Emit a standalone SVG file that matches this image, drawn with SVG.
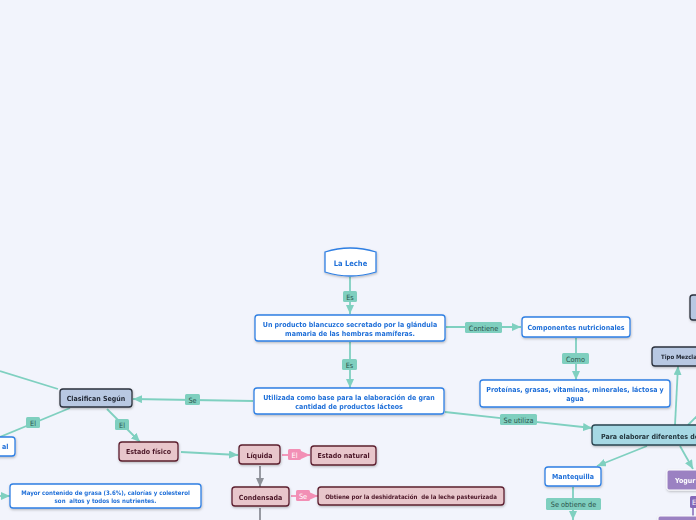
<svg xmlns="http://www.w3.org/2000/svg" width="696" height="520" viewBox="0 0 696 520">
<defs>
<style>
.bg{fill:#f2f4fc}
.wb{fill:#ffffff;stroke:#2f7fe3;stroke-width:1.3}
.gb{fill:#b8c8e2;stroke:#2b313c;stroke-width:1.3}
.cb{fill:#a6d8e4;stroke:#2a4450;stroke-width:1.3}
.pb{fill:#e8c6cb;stroke:#5c1f2f;stroke-width:1.3}
.vb{fill:#9b81c2;stroke:#ffffff;stroke-width:1}
.t{font-family:"DejaVu Sans Condensed","DejaVu Sans",sans-serif;font-weight:bold;text-anchor:middle}
.tb{fill:#1f6fd8}
.tg{fill:#1e2430}
.tc{fill:#23343c}
.tp{fill:#4a1526}
.tw{fill:#ffffff}
.c{stroke:#7fd0c0;stroke-width:1.8;fill:none}
.cg{stroke:#8d9098;stroke-width:1.8;fill:none}
.cp{stroke:#f28fb5;stroke-width:1.8;fill:none}
.lb{fill:#7fcfbf}
.lp{fill:#f28fb5}
.lv{fill:#8468b8}
.lt{font-family:"DejaVu Sans Condensed","DejaVu Sans",sans-serif;font-size:7.3px;text-anchor:middle;fill:#2b544c}
.ltw{font-family:"DejaVu Sans Condensed","DejaVu Sans",sans-serif;font-size:7.3px;text-anchor:middle;fill:#ffffff}
</style>
<filter id="sh" x="-10%" y="-20%" width="120%" height="150%">
<feDropShadow dx="0.5" dy="1.2" stdDeviation="0.8" flood-color="#000" flood-opacity="0.25"/>
</filter>
<marker id="at" markerUnits="userSpaceOnUse" markerWidth="10" markerHeight="8" refX="9" refY="4" orient="auto"><path d="M0,0 L9,4 L0,8 Z" fill="#7fd0c0"/></marker>
<marker id="ag" markerUnits="userSpaceOnUse" markerWidth="10" markerHeight="8" refX="9" refY="4" orient="auto"><path d="M0,0 L9,4 L0,8 Z" fill="#8d9098"/></marker>
<marker id="ap" markerUnits="userSpaceOnUse" markerWidth="10" markerHeight="8" refX="9" refY="4" orient="auto"><path d="M0,0 L9,4 L0,8 Z" fill="#f28fb5"/></marker>
</defs>
<rect class="bg" x="0" y="0" width="696" height="520"/>

<g id="connectors">
<line class="c" x1="350" y1="277" x2="350" y2="314" marker-end="url(#at)"/>
<line class="c" x1="350" y1="342" x2="350" y2="388" marker-end="url(#at)"/>
<line class="c" x1="446" y1="327" x2="521" y2="327" marker-end="url(#at)"/>
<line class="c" x1="576" y1="338" x2="576" y2="380" marker-end="url(#at)"/>
<line class="c" x1="445" y1="412" x2="592" y2="428" marker-end="url(#at)"/>
<line class="c" x1="253" y1="401" x2="133" y2="399" marker-end="url(#at)"/>
<line class="c" x1="58" y1="389" x2="0" y2="371"/>
<line class="c" x1="70" y1="408" x2="0" y2="437"/>
<line class="c" x1="107" y1="409" x2="140" y2="442" marker-end="url(#at)"/>
<line class="c" x1="181" y1="452" x2="238" y2="455" marker-end="url(#at)"/>
<line class="c" x1="0" y1="496" x2="10" y2="496" marker-end="url(#at)"/>
<line class="c" x1="675" y1="425" x2="678" y2="366" marker-end="url(#at)"/>
<line class="c" x1="688" y1="425" x2="700" y2="413"/>
<line class="c" x1="680" y1="446" x2="693" y2="469" marker-end="url(#at)"/>
<line class="c" x1="647" y1="446" x2="597" y2="466" marker-end="url(#at)"/>
<line class="c" x1="573" y1="487" x2="573" y2="520" marker-end="url(#at)"/>
<line class="cg" x1="260" y1="466" x2="260" y2="487" marker-end="url(#ag)"/>
<line class="cg" x1="260" y1="508" x2="260" y2="520"/>
<line class="cp" x1="282" y1="455" x2="310" y2="455" marker-end="url(#ap)"/>
<line class="cp" x1="291" y1="496" x2="318" y2="496" marker-end="url(#ap)"/>
<line x1="693" y1="508" x2="693" y2="516" stroke="#8468b8" stroke-width="1.5"/>

<rect class="lb" x="343" y="291" width="14" height="11" rx="1.5"/><text class="lt" x="350" y="299.5">Es</text>
<rect class="lb" x="342" y="359" width="15" height="11" rx="1.5"/><text class="lt" x="349.5" y="367.5">Es</text>
<rect class="lb" x="465" y="322" width="37" height="11" rx="1.5"/><text class="lt" x="483.5" y="330.5">Contiene</text>
<rect class="lb" x="562" y="353" width="27" height="11" rx="1.5"/><text class="lt" x="575.5" y="361.5">Como</text>
<rect class="lb" x="500" y="414" width="37" height="11" rx="1.5"/><text class="lt" x="518.5" y="422.5">Se utiliza</text>
<rect class="lb" x="185" y="394" width="15" height="11" rx="1.5"/><text class="lt" x="192.5" y="402.5">Se</text>
<rect class="lb" x="26" y="417" width="14" height="11" rx="1.5"/><text class="lt" x="33" y="425.5">El</text>
<rect class="lb" x="115" y="419" width="14" height="11" rx="1.5"/><text class="lt" x="122" y="427.5">El</text>
<rect class="lb" x="546" y="498" width="55" height="12" rx="1.5"/><text class="lt" x="573.5" y="507">Se obtiene de</text>
<rect class="lp" x="288" y="449" width="13" height="11" rx="1.5"/><text class="ltw" x="294.5" y="457.5">El</text>
<rect class="lp" x="296" y="490" width="14" height="11" rx="1.5"/><text class="ltw" x="303" y="498.5">Se</text>
<rect class="lv" x="690" y="496" width="12" height="12" rx="1.5"/><text class="ltw" x="692" y="504.5" style="text-anchor:start">E</text>
</g>

<g id="n-leche" filter="url(#sh)">
<path class="wb" d="M325,252 Q350,244 376,252 L376,272 Q350,280 325,272 Z"/>
<text class="t tb" x="350.5" y="265.5" font-size="7.5">La Leche</text>
</g>
<g id="n-producto" filter="url(#sh)">
<rect class="wb" x="255" y="315" width="190" height="26" rx="3"/>
<text class="t tb" x="350" y="327" font-size="7">Un producto blancuzco secretado por la glándula</text>
<text class="t tb" x="350" y="335.5" font-size="7">mamaria de las hembras mamíferas.</text>
</g>
<g id="n-utilizada" filter="url(#sh)">
<rect class="wb" x="254" y="388" width="190" height="26" rx="3"/>
<text class="t tb" x="349" y="400" font-size="7">Utilizada como base para la elaboración de gran</text>
<text class="t tb" x="349" y="408.5" font-size="7">cantidad de productos lácteos</text>
</g>
<g id="n-componentes" filter="url(#sh)">
<rect class="wb" x="522" y="317" width="108" height="20" rx="3"/>
<text class="t tb" x="576" y="329.5" font-size="7">Componentes nutricionales</text>
</g>
<g id="n-proteinas" filter="url(#sh)">
<rect class="wb" x="480" y="380" width="190" height="27" rx="3"/>
<text class="t tb" x="575" y="392" font-size="7">Proteínas, grasas, vitaminas, minerales, láctosa y</text>
<text class="t tb" x="575" y="400.5" font-size="7">agua</text>
</g>
<g id="n-para" filter="url(#sh)">
<rect class="cb" x="592" y="425" width="110" height="20" rx="3"/>
<text class="t tc" x="601" y="438.5" font-size="7" style="text-anchor:start">Para elaborar diferentes der</text>
</g>
<g id="n-tipo" filter="url(#sh)">
<rect class="gb" x="652" y="347" width="50" height="19" rx="3"/>
<text class="t tg" x="661" y="359" font-size="6" style="text-anchor:start">Tipo Mezcla</text>
</g>
<g id="n-topright" filter="url(#sh)">
<rect class="gb" x="690" y="295" width="12" height="25" rx="3"/>
</g>
<g id="n-yogur" filter="url(#sh)">
<rect class="vb" x="667" y="470" width="35" height="20" rx="2"/>
<text class="t tw" x="675" y="482.5" font-size="7" style="text-anchor:start">Yogur</text>
</g>
<g id="n-bottomright" filter="url(#sh)">
<rect class="vb" x="658" y="516" width="44" height="10" rx="2"/>
</g>
<g id="n-mantequilla" filter="url(#sh)">
<rect class="wb" x="545" y="467" width="56" height="19" rx="3"/>
<text class="t tb" x="573" y="479" font-size="7">Mantequilla</text>
</g>
<g id="n-clasifican" filter="url(#sh)">
<rect class="gb" x="60" y="389" width="72" height="18" rx="3"/>
<text class="t tg" x="96" y="400.5" font-size="7">Clasifican Según</text>
</g>
<g id="n-al" filter="url(#sh)">
<rect class="wb" x="-20" y="437" width="35" height="19" rx="3"/>
<text class="t tb" x="2" y="449" font-size="7" style="text-anchor:start">al</text>
</g>
<g id="n-estadofisico" filter="url(#sh)">
<rect class="pb" x="119" y="442" width="59" height="19" rx="3"/>
<text class="t tp" x="148.5" y="454" font-size="7">Estado físico</text>
</g>
<g id="n-liquida" filter="url(#sh)">
<rect class="pb" x="239" y="445" width="41" height="19" rx="3"/>
<text class="t tp" x="259.5" y="457.5" font-size="7">Líquida</text>
</g>
<g id="n-estadonatural" filter="url(#sh)">
<rect class="pb" x="311" y="446" width="65" height="19" rx="3"/>
<text class="t tp" x="343.5" y="458" font-size="7">Estado natural</text>
</g>
<g id="n-condensada" filter="url(#sh)">
<rect class="pb" x="232" y="487" width="57" height="19" rx="3"/>
<text class="t tp" x="260.5" y="499.5" font-size="7">Condensada</text>
</g>
<g id="n-obtiene" filter="url(#sh)">
<rect class="pb" x="318" y="487" width="186" height="18" rx="3"/>
<text class="t tp" x="411" y="498.5" font-size="6.1" xml:space="preserve">Obtiene por la deshidratación  de la leche pasteurizada</text>
</g>
<g id="n-mayor" filter="url(#sh)">
<rect class="wb" x="10" y="484" width="191" height="24" rx="3"/>
<text class="t tb" x="105.5" y="495" font-size="6.1">Mayor contenido de grasa (3.6%), calorías y colesterol</text>
<text class="t tb" x="105.5" y="502.5" font-size="6.1" xml:space="preserve">son  altos y todos los nutrientes.</text>
</g>
</svg>
